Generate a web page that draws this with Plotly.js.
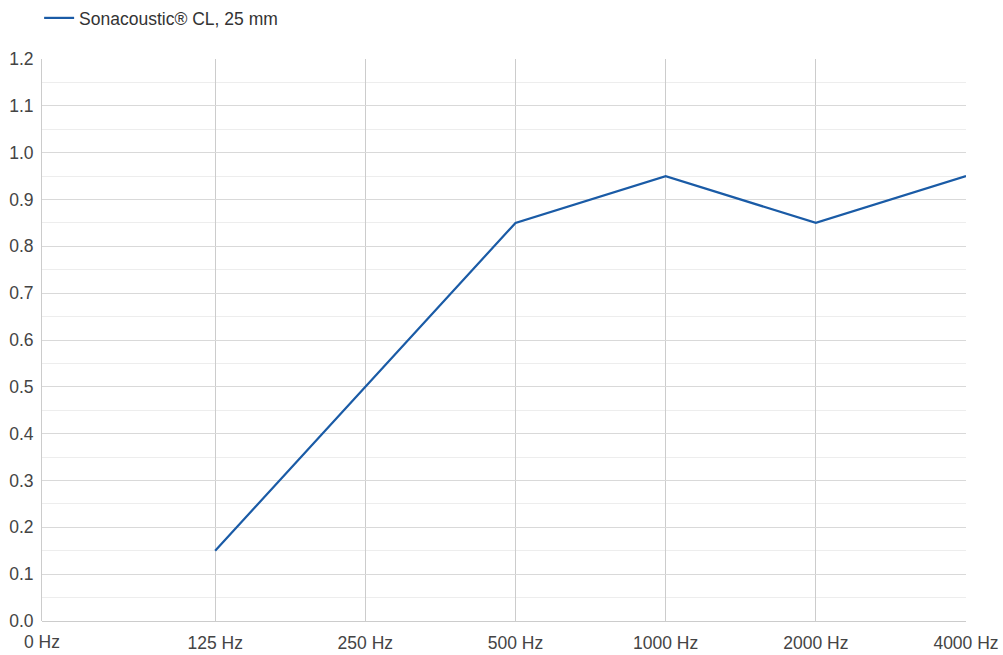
<!DOCTYPE html>
<html>
<head>
<meta charset="utf-8">
<script src="https://cdn.plot.ly/plotly-3.0.1.min.js"></script>
<style>html,body{margin:0;padding:0;background:#fff;}#chart{width:1003px;height:655px;}</style>
</head>
<body>
<div id="chart"></div>
<script>
var seriesName = "Sonacoustic® CL, 25 mm";
var frequencies = ["125 Hz", "250 Hz", "500 Hz", "1000 Hz", "2000 Hz", "4000 Hz"];
var originLabel = "0 Hz";
var absorption = [0.15, 0.50, 0.85, 0.95, 0.85, 0.95];

var trace = {
  type: "scatter",
  mode: "lines",
  x: frequencies,
  y: absorption,
  name: seriesName,
  line: {color: "#1a5ba6", width: 2.2},
  showlegend: true
};

var layout = {
  width: 1003,
  height: 655,
  margin: {l: 42, r: 37, t: 59, b: 34, autoexpand: false},
  paper_bgcolor: "#ffffff",
  plot_bgcolor: "#ffffff",
  font: {family: "Liberation Sans, Arial, sans-serif", size: 17.5, color: "#444444"},
  showlegend: true,
  legend: {
    orientation: "h",
    xref: "container", yref: "container",
    x: 0.039, xanchor: "left",
    y: 0.9725, yanchor: "middle",
    font: {size: 17.5, color: "#333333"},
    bgcolor: "rgba(0,0,0,0)"
  },
  xaxis: {
    type: "category",
    range: [-1.153, 5],
    showgrid: true,
    gridcolor: "#cccccc",
    gridwidth: 1,
    zeroline: false,
    showline: false,
    ticks: "",
    ticklabelstandoff: 9,
    tickfont: {size: 17.5, color: "#444444"},
    fixedrange: true
  },
  yaxis: {
    range: [0, 1.2],
    dtick: 0.1,
    tick0: 0,
    tickformat: ".1f",
    showgrid: true,
    gridcolor: "#d9d9d9",
    gridwidth: 1,
    minor: {dtick: 0.05, showgrid: true, gridcolor: "#ededed", gridwidth: 1},
    zeroline: true,
    zerolinecolor: "#cccccc",
    zerolinewidth: 1,
    showline: true,
    linecolor: "#cccccc",
    linewidth: 1,
    ticks: "",
    ticklabelstandoff: 4,
    tickfont: {size: 17.5, color: "#444444"},
    fixedrange: true
  },
  annotations: [{
    text: originLabel,
    xref: "paper", yref: "paper",
    x: 0, y: 0,
    xanchor: "center", yanchor: "top",
    yshift: -9,
    showarrow: false,
    font: {size: 17.5, color: "#444444"}
  }]
};

Plotly.newPlot("chart", [trace], layout, {displayModeBar: false, staticPlot: true});
</script>
</body>
</html>
